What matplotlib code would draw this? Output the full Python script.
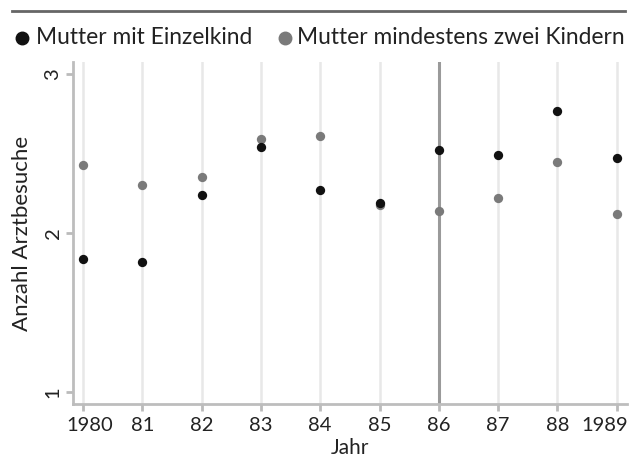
import matplotlib
matplotlib.use("Agg")
import matplotlib.pyplot as plt
from matplotlib.transforms import ScaledTranslation

plt.rcParams['font.family'] = ['Lato', 'DejaVu Sans']

# data
years = [1980, 1981, 1982, 1983, 1984, 1985, 1986, 1987, 1988, 1989]
year_labels = ['1980', '81', '82', '83', '84', '85', '86', '87', '88', '1989']
einzelkind = [1.84, 1.82, 2.24, 2.54, 2.27, 2.19, 2.52, 2.49, 2.77, 2.47]
zwei_kinder = [2.43, 2.30, 2.35, 2.59, 2.61, 2.18, 2.14, 2.22, 2.45, 2.12]
marked_year = 1986

fig = plt.figure(figsize=(6.37, 4.57), dpi=100)
ax = fig.add_axes([0.114, 0.1153, 0.871, 0.749])

# vertical grid lines per year, one stronger reference line
for yr in years:
    if yr == marked_year:
        ax.axvline(yr, color='#9a9a9a', lw=2.2, zorder=1)
    else:
        ax.axvline(yr, color='#e8e8e8', lw=1.8, zorder=1)

ax.scatter(years, zwei_kinder, s=45, color='#7a7a7a', zorder=3, linewidths=0)
ax.scatter(years, einzelkind, s=45, color='#111111', zorder=3, linewidths=0)

ax.set_xlim(1979.826, 1989.18)
ax.set_ylim(0.925, 3.075)
ax.set_xticks(years)
ax.set_xticklabels(year_labels, fontsize=14.5)
ax.set_yticks([1, 2, 3])
ax.set_yticklabels(['1', '2', '3'], fontsize=14.5, rotation=90, va='center')
ax.tick_params(axis='both', colors='#bbbbbb', labelcolor='#222222',
               length=5, width=2)
ax.tick_params(axis='y', pad=3)
ax.tick_params(axis='x', pad=4)

# first and last year labels are nudged inwards
xlabels = ax.get_xticklabels()
xlabels[0].set_transform(xlabels[0].get_transform()
                         + ScaledTranslation(0.065, 0, fig.dpi_scale_trans))
xlabels[-1].set_transform(xlabels[-1].get_transform()
                          + ScaledTranslation(-0.125, 0, fig.dpi_scale_trans))

for side in ['top', 'right']:
    ax.spines[side].set_visible(False)
for side in ['left', 'bottom']:
    ax.spines[side].set_color('#bdbdbd')
    ax.spines[side].set_linewidth(2)

ax.set_xlabel('Jahr', fontsize=15, color='#222222', va='center')
ax.xaxis.set_label_coords(0.5, -0.129)
ax.set_ylabel('Anzahl Arztbesuche', fontsize=16, color='#222222', va='center')
ax.yaxis.set_label_coords(-0.0914, 0.5)

# header rule and legend
fig.add_artist(plt.Line2D([0.019, 0.981], [0.976, 0.976],
                          transform=fig.transFigure, color='#666666', lw=2))
fig.add_artist(plt.Line2D([0.0345], [0.917], transform=fig.transFigure,
                          marker='o', ms=9, color='#111111', lw=0))
fig.text(0.056, 0.917, 'Mutter mit Einzelkind', fontsize=16.4,
         color='#222222', va='center')
fig.add_artist(plt.Line2D([0.447], [0.917], transform=fig.transFigure,
                          marker='o', ms=9, color='#7a7a7a', lw=0))
fig.text(0.467, 0.917, 'Mutter mindestens zwei Kindern', fontsize=16.4,
         color='#222222', va='center')

fig.savefig('out.png', dpi=100)
